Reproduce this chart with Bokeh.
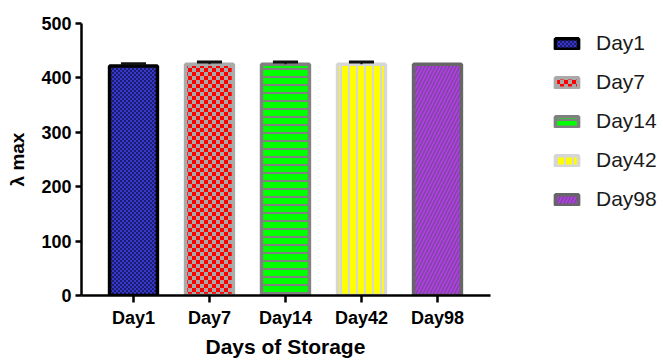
from bokeh.plotting import figure
from bokeh.models import (ColumnDataSource, Range1d, FixedTicker, Legend, LegendItem,
                          CanvasTexture, Title)
from bokeh.embed import file_html
from bokeh.resources import INLINE

# ---- data ----
days = ["Day1", "Day7", "Day14", "Day42", "Day98"]
lambda_max = [422, 425, 425, 425, 425]
sd = [4, 4, 4, 4, 0]
y_ticks = [0, 100, 200, 300, 400, 500]
x_title = "Days of Storage"
y_title = "λ max"

# ---- styles ----
fill_colors = ["#3838cc", "#a8a8a8", "#00ff00", "#ffff00", "#b23ee4"]
line_colors = ["#000000", "#aaaaaa", "#808080", "#d6d6d6", "#666666"]
hatch_patterns = ["fine_checker", "red_checker", "horizontal_line", "vertical_line", "right_diagonal_line"]
hatch_colors = ["#1c1c6e", "#ff0000", "#808080", "#d6d6d6", "#7e46a0"]
hatch_scales = [4, 8, 8, 8, 7]
hatch_weights = [1, 1, 2, 2, 1.5]

FONT = "Liberation Sans"
X_START, X_AXIS_END, X_VIEW_END = -0.684, 4.70, 6.974


def checker(css, tile):
    half = tile // 2
    return CanvasTexture(code=f"""
const c = ctx.canvas;
c.width = {tile};
c.height = {tile};
ctx.imageSmoothingEnabled = false;
ctx.fillStyle = "{css}";
ctx.fillRect(0, 0, {half}, {half});
ctx.fillRect({half}, {half}, {half}, {half});
""")


extra = {
    "fine_checker": checker(hatch_colors[0], 4),
    "red_checker": checker(hatch_colors[1], 8),
}

xs = list(range(len(days)))
src = ColumnDataSource(dict(
    x=xs, top=lambda_max, fill=fill_colors, line=line_colors,
    hp=hatch_patterns, hc=hatch_colors, hs=hatch_scales, hw=hatch_weights,
))

p = figure(width=663, height=360, output_backend="svg", toolbar_location=None,
           x_range=Range1d(X_START, X_VIEW_END), y_range=Range1d(0, 500),
           min_border_left=81, min_border_right=0, min_border_top=23,
           min_border_bottom=65)
p.outline_line_color = None
p.xgrid.visible = False
p.ygrid.visible = False
p.background_fill_color = "white"
p.border_fill_color = "white"

r = p.vbar(x="x", top="top", bottom=0, width=0.63, source=src,
           fill_color="fill", line_color="line", line_width=3.5,
           hatch_pattern="hp", hatch_color="hc", hatch_scale="hs",
           hatch_weight="hw", hatch_extra=extra)

# error bars (upper only)
ex = [x for x, e in zip(xs, sd) if e > 0]
ey0 = [v for v, e in zip(lambda_max, sd) if e > 0]
ey1 = [v + e for v, e in zip(lambda_max, sd) if e > 0]
cap = 0.33
p.segment(x0=ex, y0=ey0, x1=ex, y1=ey1, line_color="#111111", line_width=2)
p.segment(x0=[x - cap / 2 for x in ex], y0=ey1, x1=[x + cap / 2 for x in ex], y1=ey1,
          line_color="#111111", line_width=3)

# axes
for ax in (p.xaxis[0], p.yaxis[0]):
    ax.axis_line_width = 2.5
    ax.axis_line_color = "black"
    ax.major_tick_line_width = 2.5
    ax.major_tick_line_color = "black"
    ax.major_tick_in = 0
    ax.minor_tick_line_color = None
    ax.major_label_text_font = FONT
    ax.major_label_text_font_style = "bold"
    ax.major_label_text_color = "black"
    ax.axis_label_text_font = FONT
    ax.axis_label_text_font_style = "bold"
    ax.axis_label_text_color = "black"

xa = p.xaxis[0]
xa.bounds = (X_START, X_AXIS_END)
xa.ticker = FixedTicker(ticks=xs)
xa.major_label_overrides = {i: d for i, d in zip(xs, days)}
xa.major_tick_out = 7
xa.major_label_standoff = 5
xa.major_label_text_font_size = "18px"

ya = p.yaxis[0]
ya.ticker = FixedTicker(ticks=y_ticks)
ya.major_tick_out = 6
ya.major_label_standoff = 4
ya.major_label_text_font_size = "18px"
ya.axis_label = y_title
ya.axis_label_text_font_size = "19px"
ya.axis_label_standoff = 10

# x-axis title centred under the drawn axis (frame extends under legend)
p.add_layout(Title(text=x_title, align="left", offset=124, standoff=5,
                   text_font=FONT, text_font_size="21px", text_font_style="bold",
                   text_color="black"), "below")

items = [LegendItem(label=d, renderers=[r], index=i) for i, d in enumerate(days)]
legend = Legend(items=items, location=(471, 84), padding=0, margin=0,
                border_line_color=None, background_fill_alpha=0,
                glyph_width=29, glyph_height=13, label_standoff=15, spacing=15,
                label_text_font=FONT, label_text_font_size="21px",
                label_text_color="#1a1a1a")
p.add_layout(legend)

open("out.html", "w").write(file_html(p, INLINE))
